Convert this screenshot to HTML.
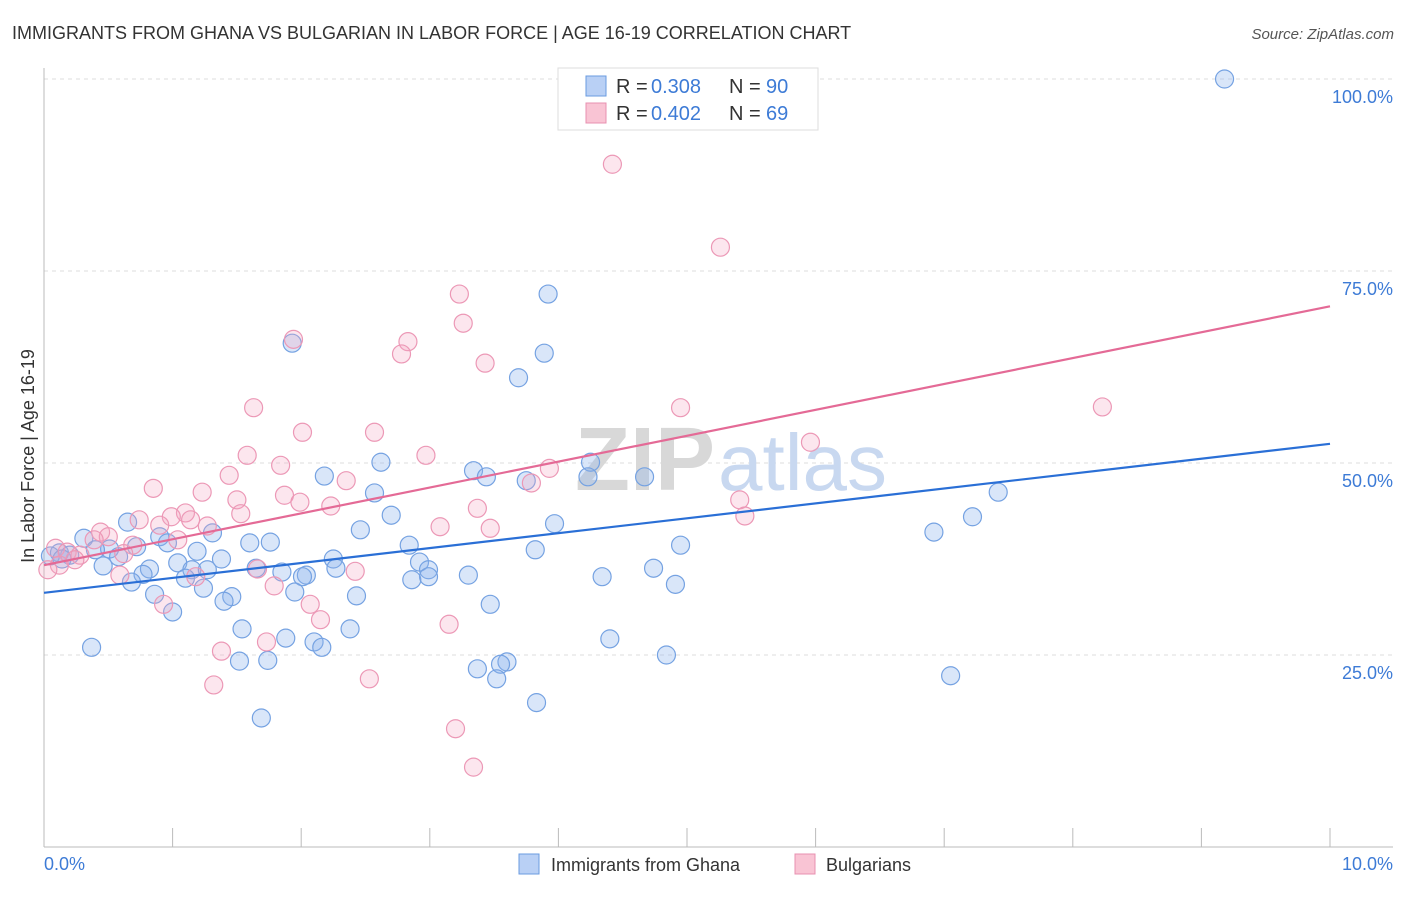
<!DOCTYPE html>
<html><head><meta charset="utf-8"><style>
body{margin:0;background:#fff;font-family:"Liberation Sans",sans-serif;}
svg text{font-family:"Liberation Sans",sans-serif;}
</style></head><body>
<svg id="chart" width="1406" height="892">
<text x="12" y="39" font-size="18" fill="#333">IMMIGRANTS FROM GHANA VS BULGARIAN IN LABOR FORCE | AGE 16-19 CORRELATION CHART</text>
<text x="1394" y="39" font-size="15" fill="#555" font-style="italic" text-anchor="end">Source: ZipAtlas.com</text>
<g id="grid"></g>
<text x="715" y="490" font-size="90" fill="#d8d8d8" text-anchor="end" font-family="Liberation Serif" font-weight="bold">ZIP</text>
<text x="718" y="490" font-size="80" fill="#c8d8f0">atlas</text>
<g id="pts"></g>
<g id="lines"></g>
<text transform="translate(34,456) rotate(-90)" font-size="18" fill="#333" text-anchor="middle">In Labor Force | Age 16-19</text>
<text x="44" y="870" font-size="18" fill="#3d7bd6">0.0%</text>
<text x="1393" y="870" font-size="18" fill="#3d7bd6" text-anchor="end">10.0%</text>
<g>
<rect x="558" y="68" width="260" height="62" fill="#fff" stroke="#ddd"/>
<rect x="586" y="76" width="20" height="20" fill="#b9d0f5" stroke="#6a9be0"/>
<rect x="586" y="103" width="20" height="20" fill="#f9c4d4" stroke="#e890b0"/>
<text x="616" y="93" font-size="20" fill="#333">R =</text><text x="651" y="93" font-size="20" fill="#3d7bd6">0.308</text>
<text x="729" y="93" font-size="20" fill="#333">N =</text><text x="766" y="93" font-size="20" fill="#3d7bd6">90</text>
<text x="616" y="120" font-size="20" fill="#333">R =</text><text x="651" y="120" font-size="20" fill="#3d7bd6">0.402</text>
<text x="729" y="120" font-size="20" fill="#333">N =</text><text x="766" y="120" font-size="20" fill="#3d7bd6">69</text>
</g>
<g>
<rect x="519" y="854" width="20" height="20" fill="#b9d0f5" stroke="#6a9be0"/>
<text x="551" y="871" font-size="18" fill="#333">Immigrants from Ghana</text>
<rect x="795" y="854" width="20" height="20" fill="#f9c4d4" stroke="#e890b0"/>
<text x="826" y="871" font-size="18" fill="#333">Bulgarians</text>
</g>
</svg>
<script>
const yTicks=[25,50,75,100];
const xTicks=[0,1,2,3,4,5,6,7,8,9,10];
const ghanaX=[9.18,3.92,3.89,3.69,1.93,4.25,2.62,2.18,3.34,3.44,4.23,4.67,3.75,2.57,7.42,2.70,7.22,6.92,3.97,2.46,0.65,1.31,0.90,0.31,0.96,1.60,1.76,0.72,2.84,4.95,0.51,1.19,3.82,0.40,0.12,0.20,0.05,0.14,0.58,1.38,2.25,2.92,1.04,0.46,1.65,2.27,0.82,1.15,1.27,4.74,2.99,1.85,0.77,2.04,3.30,4.34,2.99,1.10,2.01,2.86,0.68,4.91,1.24,1.95,0.86,2.43,1.46,1.40,3.47,1.00,1.54,2.38,1.88,4.40,2.10,0.37,2.16,4.84,1.52,1.74,3.60,3.55,3.37,3.52,7.05,3.83,1.69];
const ghanaY=[100,72.0,64.3,61.1,65.6,50.1,50.1,48.3,49.0,48.2,48.2,48.2,47.7,46.1,46.2,43.2,43.0,41.0,42.1,41.3,42.3,40.9,40.4,40.2,39.6,39.6,39.7,39.1,39.3,39.3,38.8,38.5,38.7,38.7,38.3,38.0,37.9,37.5,37.8,37.5,37.5,37.1,37.0,36.6,36.3,36.3,36.2,36.1,36.1,36.3,36.1,35.8,35.5,35.4,35.4,35.2,35.2,35.0,35.2,34.8,34.5,34.2,33.7,33.2,32.9,32.7,32.6,32.0,31.6,30.6,28.4,28.4,27.2,27.1,26.7,26.0,26.0,25.0,24.2,24.3,24.1,23.8,23.2,21.9,22.3,18.8,16.8];
const bulgX=[4.42,5.26,3.23,3.26,1.94,2.83,2.78,3.43,1.63,4.95,8.23,2.01,2.57,5.96,1.58,2.97,1.84,3.93,1.44,2.35,3.79,0.85,1.23,1.87,1.50,1.99,5.41,2.23,3.37,1.10,1.53,5.45,1.14,0.74,0.99,0.90,1.27,3.08,3.47,0.44,1.04,0.50,0.39,0.69,0.09,0.18,0.28,0.24,0.12,0.03,0.62,1.66,2.42,0.59,1.18,1.79,0.93,2.07,2.15,3.15,1.73,1.38,2.53,1.32,3.20,3.34];
const bulgY=[88.9,78.1,72.0,68.2,66.1,65.8,64.2,63.0,57.2,57.2,57.3,54.0,54.0,52.7,51.0,51.0,49.7,49.3,48.4,47.7,47.4,46.7,46.2,45.8,45.2,44.9,45.2,44.4,44.1,43.5,43.4,43.1,42.6,42.6,43.0,41.9,41.8,41.7,41.5,41.0,40.0,40.4,40.0,39.3,38.9,38.4,38.0,37.4,36.7,36.1,38.2,36.2,35.9,35.4,35.2,34.0,31.6,31.6,29.6,29.0,26.7,25.5,21.9,21.1,15.4,10.4];
const trendGhana=[33.1,52.5];
const trendBulg=[36.7,70.4];
const NS='http://www.w3.org/2000/svg';
const sx=v=>44+v*128.6, sy=v=>847-v*7.68;
function mk(t,a,p){const e=document.createElementNS(NS,t);for(const k in a)e.setAttribute(k,a[k]);p.appendChild(e);return e;}
const g=document.getElementById('grid');
for(const t of yTicks){
 const l=mk('line',{x1:44,x2:1393,y1:sy(t),y2:sy(t),stroke:'#ddd','stroke-dasharray':'4,4'},g);
 
 
 const tx=mk('text',{x:1393,y:sy(t)+24,'text-anchor':'end','font-size':18,fill:'#3d7bd6'},g);
 tx.textContent=t.toFixed(1)+'%';
 
 
}
mk('line',{x1:44,x2:44,y1:68,y2:847,stroke:'#bbb'},g);
mk('line',{x1:44,x2:1393,y1:847,y2:847,stroke:'#bbb'},g);
for(const t of xTicks){
 const l=mk('line',{x1:sx(t),x2:sx(t),y1:828,y2:847,stroke:'#bbb'},g);
 
 
}
const p=document.getElementById('pts');
ghanaX.forEach((x,i)=>{
 const c=mk('circle',{cx:sx(x),cy:sy(ghanaY[i]),r:9,fill:'rgba(140,178,238,0.33)',stroke:'#75a2e2','stroke-width':1.2},p);
 
 
});
bulgX.forEach((x,i)=>{
 const c=mk('circle',{cx:sx(x),cy:sy(bulgY[i]),r:9,fill:'rgba(245,165,195,0.28)',stroke:'#ec98b6','stroke-width':1.2},p);
 
 
});
const L=document.getElementById('lines');
const a=mk('line',{x1:sx(0),x2:sx(10),y1:sy(trendGhana[0]),y2:sy(trendGhana[1]),stroke:'#2a6fd6','stroke-width':2.2},L);


const b=mk('line',{x1:sx(0),x2:sx(10),y1:sy(trendBulg[0]),y2:sy(trendBulg[1]),stroke:'#e46a96','stroke-width':2.2},L);


</script>
</body></html>
